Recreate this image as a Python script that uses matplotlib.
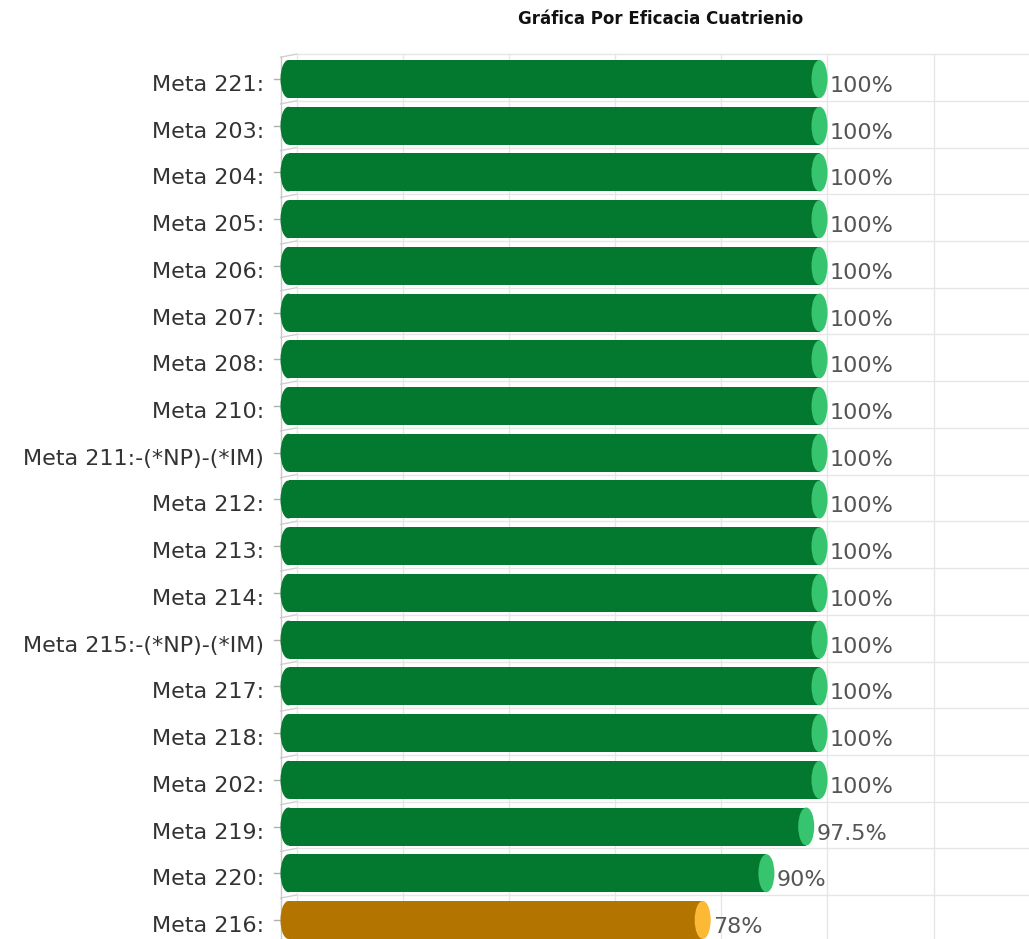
import matplotlib
matplotlib.use("Agg")
import matplotlib.pyplot as plt
from matplotlib.patches import Rectangle, Ellipse

categories = ["Meta 221:", "Meta 203:", "Meta 204:", "Meta 205:", "Meta 206:",
              "Meta 207:", "Meta 208:", "Meta 210:", "Meta 211:-(*NP)-(*IM)",
              "Meta 212:", "Meta 213:", "Meta 214:", "Meta 215:-(*NP)-(*IM)",
              "Meta 217:", "Meta 218:", "Meta 202:", "Meta 219:", "Meta 220:",
              "Meta 216:"]
values = [100, 100, 100, 100, 100, 100, 100, 100, 100, 100, 100, 100, 100,
          100, 100, 100, 97.5, 90, 78]
value_labels = ["100%"] * 16 + ["97.5%", "90%", "78%"]
title = "Gráfica Por Eficacia Cuatrienio"
grid_ticks = [0, 20, 40, 60, 80, 100, 120]

W, H = 1029, 939
PX_PER_PCT = 5.31          # pixels per percent
ROW_PX = 46.72             # pixels per category row
X0_PX = 288.5              # pixel x of value 0 (mid depth)
Y0_PX = 79                 # pixel y of first row center
DEPTH_X, DEPTH_Y = 8, 1.5  # half depth offset in pixels

fig = plt.figure(figsize=(W / 100, H / 100), dpi=100)
ax = fig.add_axes([0, 0, 1, 1])
ax.set_xlim(-X0_PX / PX_PER_PCT, (W - X0_PX) / PX_PER_PCT)
ax.set_ylim((H - Y0_PX) / ROW_PX, -Y0_PX / ROW_PX)
ax.axis("off")

dx = lambda p: p / PX_PER_PCT
dy = lambda p: p / ROW_PX

n = len(categories)
grid_c = "#e6e6e6"
# back wall grid
top_back = -0.5 - dy(DEPTH_Y)
bottom = (H - Y0_PX) / ROW_PX
for t in grid_ticks:
    xb = t + dx(DEPTH_X)
    ax.plot([xb, xb], [top_back, bottom], color=grid_c, lw=1, zorder=0)
for i in range(n + 1):
    yb = i - 0.5 - dy(DEPTH_Y)
    ax.plot([dx(DEPTH_X), 140], [yb, yb], color=grid_c, lw=1, zorder=0)
    ax.plot([-dx(DEPTH_X), dx(DEPTH_X)], [i - 0.5 + dy(DEPTH_Y), yb],
            color="#d0d0d0", lw=1, zorder=0)
# front axis line
ax.plot([-dx(DEPTH_X)] * 2, [-0.5 + dy(DEPTH_Y), bottom], color="#c8c8c8", lw=1, zorder=1)
for i in range(n):
    ax.plot([-dx(DEPTH_X) - dx(7), -dx(DEPTH_X)], [i, i], color="#b0b0b0", lw=1, zorder=1)

bar_h = dy(38)
ell_w = dx(16)
for i, (v, lab, vl) in enumerate(zip(values, categories, value_labels)):
    if v >= 80:
        dark, light = "#03792f", "#36c46f"
    else:
        dark, light = "#b37400", "#fbb935"
    ax.add_patch(Rectangle((0, i - bar_h / 2), v, bar_h, facecolor=dark,
                           edgecolor="none", zorder=2))
    ax.add_patch(Ellipse((0, i), ell_w, bar_h, facecolor=dark, edgecolor="none", zorder=2))
    ax.add_patch(Ellipse((v, i), ell_w, bar_h, facecolor=light, edgecolor="none", zorder=3))
    ax.text(v + dx(10), i + dy(7), vl, ha="left", va="center", fontsize=16,
            color="#555555", family="DejaVu Sans", zorder=4)
    ax.text(-dx(X0_PX - 264), i + dy(6), lab, ha="right", va="center", fontsize=16,
            color="#333333", family="DejaVu Sans", zorder=4)

ax.text(dx(661 - X0_PX), dy(19 - Y0_PX), title, ha="center", va="center",
        fontsize=12, fontweight="bold", color="#111111", family="DejaVu Sans")

fig.savefig("out.png", dpi=100)
